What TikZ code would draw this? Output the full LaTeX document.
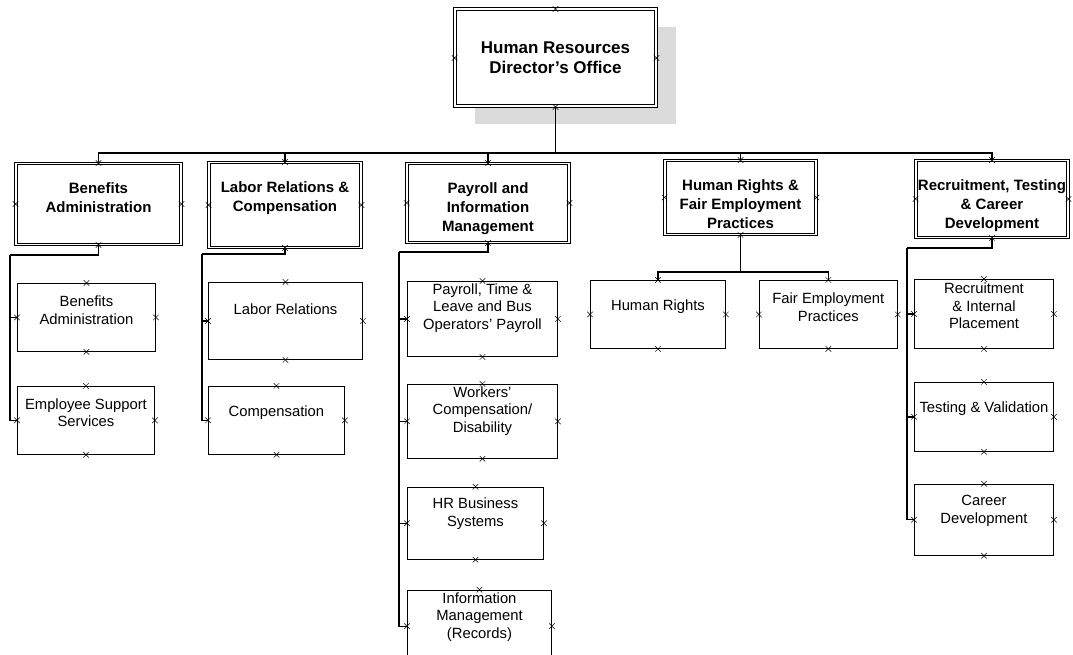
\documentclass[tikz,border=0pt]{standalone}
\usepackage{fontspec}
\setmainfont{Liberation Sans}
\usetikzlibrary{positioning,shapes.misc,shadows}

\begin{document}
\begin{tikzpicture}[x=1pt, y=-1pt, node distance=30pt,
    head/.style={draw, double, double distance=2pt, line width=1pt, fill=white,
      align=center, font=\fontsize{17}{20}\selectfont\bfseries},
    dept/.style={draw, double, double distance=1.8pt, line width=0.9pt, anchor=north},
    unit/.style={draw, line width=0.9pt, anchor=north west},
    depttext/.style={anchor=north, yshift=-19pt, inner sep=0pt, align=center,
      font=\fontsize{15}{19}\selectfont\bfseries},
    unittext/.style={anchor=center, yshift=-27pt, inner sep=0pt, align=center,
      font=\fontsize{14.8}{17.5}\selectfont},
    link/.style={line width=1.3pt},
    cpt/.style={draw, cross out, minimum size=5pt, inner sep=0pt, line width=0.5pt}]
   \useasboundingbox (0,0) rectangle (1073,655);

   % director's office
   \node[head, drop shadow={shadow xshift=20pt, shadow yshift=-18pt, fill=black!14, opacity=1},
     minimum width=201pt, minimum height=97pt, anchor=north] (hr) at (555.5,9) {Human Resources\\Director's Office};

   % divisions
   \node[dept, minimum width=165pt, minimum height=81pt, label={[depttext]north:Benefits\\Administration}] (ben) at (98.5,163) {};
   \node[dept, minimum width=152pt, minimum height=85pt, label={[depttext]north:Labor Relations \&\\Compensation}] (lab) at (285,162) {};
   \node[dept, minimum width=162pt, minimum height=79pt, label={[depttext]north:Payroll and\\Information\\Management}] (pay) at (488,163) {};
   \node[dept, minimum width=151pt, minimum height=74pt, label={[depttext]north:Human Rights \&\\Fair Employment\\Practices}] (hrf) at (740.5,160) {};
   \node[dept, minimum width=152pt, minimum height=77pt, label={[depttext]north:{Recruitment, Testing\\\& Career\\Development}}] (rec) at (992,160) {};

   % benefits units
   \node[unit, minimum width=138pt, minimum height=68pt, label={[unittext]north:Benefits\\Administration}] (bad) at (17,283) {};
   \node[unit, minimum width=137pt, minimum height=68pt, label={[unittext]north:Employee Support\\Services}] (bes) [below=34pt of bad.south west, anchor=north west] {};

   % labor units
   \node[unit, minimum width=154pt, minimum height=77pt, label={[unittext]north:Labor Relations}] (blr) at (208,282) {};
   \node[unit, minimum width=136pt, minimum height=68pt, label={[unittext]north:Compensation}] (bco) [below=26pt of blr.south west, anchor=north west] {};

   % payroll units
   \node[unit, minimum width=150pt, minimum height=75pt, label={[unittext]north:{Payroll, Time \&\\Leave and Bus\\Operators' Payroll}}] (ppt) at (407,281) {};
   \node[unit, minimum width=150pt, minimum height=74pt, label={[unittext]north:Workers'\\Compensation/\\Disability}] (pwc) [below=27pt of ppt.south west, anchor=north west] {};
   \node[unit, minimum width=136pt, minimum height=72pt, label={[unittext]north:HR Business\\Systems}] (pbs) [below=28pt of pwc.south west, anchor=north west] {};
   \node[unit, minimum width=144pt, minimum height=72pt, label={[unittext]north:Information\\Management\\(Records)}] (pim) [below=30pt of pbs.south west, anchor=north west] {};

   % human rights units
   \node[unit, minimum width=135pt, minimum height=68pt, label={[unittext]north:Human Rights}] (hhr) at (590,280) {};
   \node[unit, minimum width=138pt, minimum height=68pt, label={[unittext]north:Fair Employment\\Practices}] (hfe) [right=33pt of hhr.north east, anchor=north west] {};

   % recruitment units
   \node[unit, minimum width=139pt, minimum height=69pt, label={[unittext]north:Recruitment\\\& Internal\\Placement}] (rri) at (914,279) {};
   \node[unit, minimum width=139pt, minimum height=69pt, label={[unittext]north:Testing \& Validation}] (rtv) [below=33pt of rri.south west, anchor=north west] {};
   \node[unit, minimum width=139pt, minimum height=71pt, label={[unittext]north:Career\\Development}] (rcd) [below=32pt of rtv.south west, anchor=north west] {};

   % connectors
   \coordinate (bus) at (555.5,153);
   \draw[link] (hr.south) -- (bus);
   \foreach \d in {ben,lab,pay,hrf,rec}
     \draw[link] (bus) -| (\d.north);

   \coordinate (ben-k) at (10,255);
   \coordinate (lab-k) at (202,254);
   \coordinate (pay-k) at (399,252);
   \coordinate (hrf-k) at (740.5,272);
   \coordinate (rec-k) at (907,248);
   \foreach \d in {ben,lab,pay,rec}
     \draw[link] (\d.south) |- (\d-k);
   \draw[link] (hrf.south) -- (hrf-k);

   \foreach \u in {bad,bes} \draw[link] (ben-k) |- (\u.west);
   \foreach \u in {blr,bco} \draw[link] (lab-k) |- (\u.west);
   \foreach \u in {ppt,pwc,pbs,pim} \draw[link] (pay-k) |- (\u.west);
   \foreach \u in {hhr,hfe} \draw[link] (hrf-k) -| (\u.north);
   \foreach \u in {rri,rtv,rcd} \draw[link] (rec-k) |- (\u.west);

   % connection points
   \foreach \b in {hr,ben,lab,pay,hrf,rec,bad,bes,blr,bco,ppt,pwc,pbs,pim,hhr,hfe,rri,rtv,rcd}
     \foreach \a in {north,south,east,west}
       \node[cpt] (\b-\a) at (\b.\a) {};
\end{tikzpicture}
\end{document}
